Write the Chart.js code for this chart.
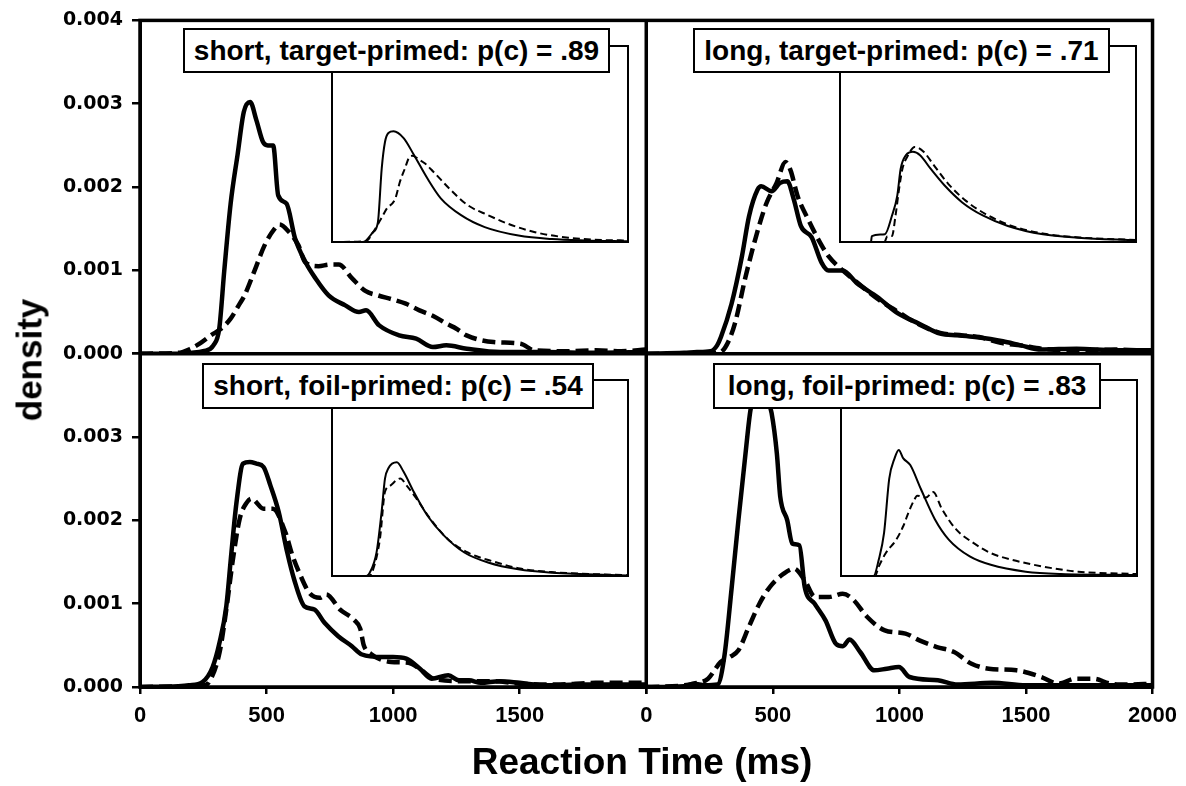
<!DOCTYPE html>
<html><head><meta charset="utf-8">
<script src="https://cdn.jsdelivr.net/npm/chart.js@4.4.1/dist/chart.umd.min.js"></script>
<style>
html,body{margin:0;padding:0;background:#fff;}
#wrap{position:relative;width:1186px;height:786px;overflow:hidden;background:#fff;}
canvas{position:absolute;}
.lbl{position:absolute;box-sizing:border-box;border:2px solid #000;background:#fff;display:flex;align-items:center;justify-content:center;font-family:'Liberation Sans',Arial,sans-serif;font-weight:bold;font-size:28px;color:#000;white-space:nowrap;line-height:1;}
.title{position:absolute;font-family:'Liberation Sans',Arial,sans-serif;font-weight:bold;color:#000;white-space:nowrap;line-height:1;}
</style></head>
<body>
<div id="wrap"><canvas id="main" width="1186" height="786" style="left:0;top:0"></canvas></div>
<script>
// ---------- data (ms, density) ----------
const xTickLabels = ['0','500','1000','1500','2000'];
const yTickLabels = ['0.000','0.001','0.002','0.003','0.004'];
const panelTitles = ['short, target-primed: p(c) = .89','long, target-primed: p(c) = .71','short, foil-primed: p(c) = .54','long, foil-primed: p(c) = .83'];
const xTitle = 'Reaction Time (ms)';
const yTitle = 'density';

// top-left: short, target-primed
const tlSolid = [[0,0],[150,0],[200,0.00001],[250,0.00003],[290,0.0001],[313,0.0003],[333,0.001],[358,0.0018],[386,0.0024],[410,0.0029],[435,0.00302],[460,0.0028],[486,0.00254],[505,0.0025],[526,0.0025],[546,0.0019],[579,0.0018],[612,0.00139],[652,0.00111],[692,0.00091],[745,0.0007],[811,0.00058],[865,0.0005],[893,0.00052],[945,0.00034],[1024,0.00022],[1091,0.00018],[1157,0.00008],[1210,0.0001],[1291,0.00006],[1424,0.00002],[1600,0.00002],[1800,0.00001],[2000,0.00002]];
const tlDashed = [[0,0],[150,0.00001],[200,0.00006],[240,0.00013],[280,0.00022],[320,0.0003],[358,0.00042],[390,0.00058],[413,0.0007],[453,0.001],[492,0.0013],[532,0.0015],[551,0.00155],[586,0.00147],[626,0.0013],[652,0.0011],[705,0.00105],[750,0.00107],[785,0.00107],[839,0.0009],[892,0.00075],[940,0.0007],[998,0.00065],[1050,0.0006],[1104,0.00052],[1160,0.00045],[1211,0.00036],[1250,0.0003],[1290,0.00022],[1397,0.00014],[1504,0.00012],[1557,0.00004],[1690,0.00003],[1800,0.00004],[1900,0.00003],[2000,0.00005]];
// top-right: long, target-primed
const trSolid = [[0,0],[150,0.00001],[200,0.00002],[254,0.00003],[280,0.0001],[295,0.0002],[337,0.0006],[378,0.00117],[406,0.00165],[440,0.00197],[454,0.00201],[495,0.00195],[529,0.00205],[557,0.00207],[583,0.00185],[611,0.00153],[653,0.0014],[693,0.00109],[720,0.001],[776,0.001],[831,0.00085],[913,0.00068],[996,0.00048],[1078,0.00036],[1161,0.00024],[1230,0.00022],[1299,0.0002],[1409,0.00015],[1480,0.0001],[1560,0.00005],[1700,0.00006],[1850,0.00004],[2000,0.00004]];
const trDashed = [[0,0],[200,0],[280,0.00001],[300,0.00003],[325,0.00015],[350,0.00036],[392,0.00092],[433,0.0014],[474,0.0018],[515,0.00205],[550,0.0023],[570,0.0022],[598,0.00189],[640,0.00161],[680,0.00137],[720,0.00117],[776,0.001],[831,0.00086],[913,0.00066],[996,0.0005],[1078,0.00035],[1161,0.00025],[1250,0.00022],[1315,0.0002],[1400,0.00013],[1480,0.0001],[1560,0.00006],[1700,0.00004],[1850,0.00005],[2000,0.00003]];
// bottom-left: short, foil-primed
const blSolid = [[0,0],[150,0.00001],[193,0.00002],[247,0.00006],[287,0.00024],[314,0.00053],[341,0.00097],[361,0.00161],[381,0.00221],[407,0.00268],[434,0.0027],[460,0.00268],[488,0.00264],[515,0.00242],[548,0.0021],[582,0.00161],[609,0.00129],[649,0.00097],[689,0.00093],[729,0.00077],[783,0.00061],[837,0.00049],[877,0.00039],[955,0.00036],[1000,0.00036],[1052,0.00034],[1106,0.00022],[1152,0.0001],[1218,0.00014],[1260,0.00008],[1300,0.00008],[1346,0.00005],[1420,0.00007],[1500,0.00005],[1600,0.00002],[1750,0.00003],[2000,0.00003]];
const blDashed = [[0,0],[200,0.00001],[250,0.00002],[273,0.00006],[314,0.00041],[341,0.00093],[367,0.00153],[394,0.00202],[421,0.00221],[440,0.00226],[488,0.00214],[525,0.00214],[575,0.00185],[602,0.00158],[628,0.00138],[669,0.00113],[710,0.00107],[736,0.00111],[790,0.00093],[844,0.00081],[870,0.0007],[884,0.0005],[911,0.0004],[992,0.0003],[1060,0.00029],[1113,0.0002],[1160,0.0001],[1280,0.00007],[1400,0.00007],[1500,0.00004],[1640,0.00003],[1800,0.00005],[2000,0.00005]];
// bottom-right: long, foil-primed
const brSolid = [[0,0],[150,0.00001],[188,0.00004],[230,0.00002],[282,0.00003],[309,0.00038],[337,0.00118],[364,0.002],[392,0.0028],[412,0.00333],[430,0.0035],[450,0.0036],[475,0.0035],[495,0.00329],[516,0.0028],[529,0.00229],[557,0.002],[577,0.00172],[605,0.0017],[626,0.0012],[665,0.001],[708,0.0008],[749,0.00052],[777,0.00049],[803,0.00057],[845,0.00042],[901,0.0002],[950,0.00022],[998,0.00024],[1040,0.00012],[1152,0.00008],[1230,0.00003],[1366,0.00005],[1500,0.00002],[2000,0.00002]];
const brDashed = [[0,0],[150,0.00002],[188,0.00004],[244,0.0001],[294,0.0003],[330,0.00036],[364,0.00044],[405,0.00072],[447,0.001],[488,0.0012],[543,0.00136],[584,0.00142],[626,0.00128],[667,0.00108],[722,0.00108],[776,0.00112],[817,0.00105],[873,0.00084],[942,0.00068],[1024,0.00064],[1079,0.00056],[1148,0.00048],[1216,0.00042],[1285,0.00028],[1353,0.00022],[1463,0.0002],[1560,0.00012],[1629,0.00004],[1697,0.0001],[1766,0.0001],[1834,0.00004],[1900,0.00003],[2000,0.00004]];

// insets (ms, relative height)
const tlInSolid = [[0,0],[209,0],[277,0.05],[310,0.1],[336,0.376],[358,0.51],[381,0.556],[416,0.565],[484,0.53],[553,0.445],[644,0.325],[735,0.223],[872,0.137],[1032,0.076],[1260,0.033],[1486,0.015],[1710,0.008],[2000,0.004]];
const tlInDashed = [[0,0],[230,0.005],[277,0.05],[310,0.09],[336,0.125],[370,0.17],[427,0.22],[460,0.31],[495,0.38],[518,0.427],[545,0.44],[590,0.42],[629,0.4],[683,0.36],[804,0.264],[917,0.188],[1054,0.137],[1189,0.093],[1372,0.05],[1597,0.022],[1822,0.01],[2000,0.008]];
const trInSolid = [[0,0],[209,0],[215,0.03],[304,0.04],[351,0.134],[387,0.237],[410,0.374],[446,0.443],[493,0.46],[541,0.443],[612,0.374],[707,0.288],[826,0.202],[968,0.134],[1134,0.082],[1371,0.039],[1608,0.022],[2000,0.008]];
const trInDashed = [[0,0],[300,0],[320,0.03],[351,0.03],[375,0.134],[399,0.27],[422,0.374],[458,0.44],[505,0.485],[565,0.46],[636,0.39],[731,0.297],[849,0.211],[990,0.14],[1150,0.085],[1380,0.042],[1620,0.023],[2000,0.01]];
const blInSolid = [[0,0],[233,0],[255,0.017],[301,0.12],[335,0.326],[358,0.497],[381,0.55],[438,0.58],[483,0.533],[552,0.43],[643,0.31],[757,0.206],[894,0.12],[1054,0.069],[1259,0.034],[1487,0.017],[2000,0.003]];
const blInDashed = [[0,0],[250,0],[278,0.034],[324,0.19],[358,0.43],[392,0.46],[438,0.49],[461,0.497],[506,0.46],[575,0.39],[666,0.29],[780,0.19],[917,0.12],[1077,0.077],[1270,0.038],[1500,0.019],[2000,0.004]];
const brInSolid = [[0,0],[220,0],[255,0.083],[291,0.22],[326,0.497],[362,0.6],[390,0.643],[421,0.6],[468,0.566],[539,0.445],[634,0.29],[728,0.186],[870,0.1],[1012,0.057],[1248,0.022],[1485,0.01],[2000,0.005]];
const brInDashed = [[0,0],[230,0],[255,0.048],[303,0.117],[374,0.186],[421,0.255],[456,0.324],[492,0.384],[515,0.41],[574,0.4],[622,0.428],[681,0.343],[775,0.24],[894,0.169],[1012,0.117],[1154,0.083],[1366,0.048],[1603,0.022],[2000,0.01]];

// ---------- layout ----------
const wrap = document.getElementById('wrap');
const BLACK = '#000';
const xFont = {family:'Liberation Sans', size:22, weight:'bold'};
const yFont = {family:'DejaVu Sans', size:19, weight:'bold'};

function xScale(hideLast){
  return {type:'linear', position:'bottom', stack:'h', stackWeight:1, min:0, max:2000,
    ticks:{stepSize:500, color:BLACK, font:xFont, padding:9, maxRotation:0, minRotation:0, autoSkip:false,
      callback:(v,i)=> (hideLast && i===xTickLabels.length-1) ? '' : xTickLabels[i]},
    grid:{drawOnChartArea:false, drawTicks:true, tickLength:7, color:BLACK, lineWidth:2.5},
    border:{display:true, color:BLACK, width:3},
    afterFit:(s)=>{ s.height = 99; }};
}
function yScale(w, hideTop){
  return {type:'linear', position:'left', stack:'v', stackWeight:1, weight:w, min:0, max:0.004,
    ticks:{stepSize:0.001, color:BLACK, font:yFont, padding:9,
      callback:(v,i)=> (hideTop && i===yTickLabels.length-1) ? '' : yTickLabels[i]},
    grid:{drawOnChartArea:false, drawTicks:true, tickLength:8, color:BLACK, lineWidth:2.5},
    border:{display:true, color:BLACK, width:3},
    afterFit:(s)=>{ s.width = 140; }};
}
function line(data, x, y, dashed, w){
  return {data, xAxisID:x, yAxisID:y, borderColor:BLACK, borderWidth:w, pointRadius:0,
    fill:false, cubicInterpolationMode:'monotone',
    borderDash: dashed ? (w>3 ? [13,6] : [7,4]) : [], borderCapStyle:'butt', borderJoinStyle:'round'};
}

const framePlugin = {id:'frame', afterDraw(chart){
  const {ctx, chartArea:a} = chart;
  ctx.save(); ctx.strokeStyle = BLACK; ctx.lineWidth = 3.5;
  ctx.strokeRect(a.left, a.top, a.right-a.left, a.bottom-a.top);
  const yT = chart.scales.yT, xL = chart.scales.xL;
  ctx.beginPath();
  ctx.moveTo(a.left, yT.bottom); ctx.lineTo(a.right, yT.bottom);
  ctx.moveTo(xL.right, a.top); ctx.lineTo(xL.right, a.bottom);
  ctx.stroke(); ctx.restore();
}};

new Chart(document.getElementById('main'), {
  type:'line',
  data:{datasets:[
    line(tlDashed,'xL','yT',true,4.5), line(tlSolid,'xL','yT',false,4.5),
    line(trDashed,'xR','yT',true,4.5), line(trSolid,'xR','yT',false,4.5),
    line(blDashed,'xL','yB',true,4.5), line(blSolid,'xL','yB',false,4.5),
    line(brDashed,'xR','yB',true,4.5), line(brSolid,'xR','yB',false,4.5)
  ]},
  options:{responsive:false, animation:false, devicePixelRatio:1, events:[],
    layout:{padding:{top:18, right:30, left:0, bottom:0}},
    plugins:{legend:{display:false}, tooltip:{enabled:false}, title:{display:false}},
    scales:{ xL:xScale(true), xR:xScale(false), yT:yScale(2,false), yB:yScale(1,true) }},
  plugins:[framePlugin]
});

// insets
const inFrame = {id:'inframe', afterDraw(chart){
  const {ctx, chartArea:a} = chart;
  ctx.save(); ctx.strokeStyle = BLACK; ctx.lineWidth = 2;
  ctx.strokeRect(a.left, a.top, a.right-a.left, a.bottom-a.top); ctx.restore();
}};
const insetBoxes = [
  {x:332, y:46, w:296, h:196, s:tlInSolid, d:tlInDashed},
  {x:840, y:46, w:296, h:196, s:trInSolid, d:trInDashed},
  {x:332, y:380, w:296, h:196, s:blInSolid, d:blInDashed},
  {x:841, y:380, w:296, h:196, s:brInSolid, d:brInDashed}
];
insetBoxes.forEach((b)=>{
  const c = document.createElement('canvas');
  const m = 2;
  c.width = b.w + 2*m; c.height = b.h + 2*m;
  c.style.left = (b.x - m) + 'px'; c.style.top = (b.y - m) + 'px';
  wrap.appendChild(c);
  new Chart(c, {type:'line',
    data:{datasets:[ line(b.d,'x','y',true,2), line(b.s,'x','y',false,2) ]},
    options:{responsive:false, animation:false, devicePixelRatio:1, events:[],
      layout:{padding:m},
      plugins:{legend:{display:false}, tooltip:{enabled:false}},
      scales:{x:{type:'linear', display:false, min:0, max:2000}, y:{type:'linear', display:false, min:0, max:1}}},
    plugins:[inFrame]});
});

// panel labels
const labelBoxes = [
  {x:183, y:28, w:427, h:45},
  {x:693, y:28, w:417, h:45},
  {x:202, y:363, w:392, h:46},
  {x:713, y:363, w:388, h:46}
];
labelBoxes.forEach((b,i)=>{
  const d = document.createElement('div');
  d.className = 'lbl';
  d.style.left = b.x+'px'; d.style.top = b.y+'px'; d.style.width = b.w+'px'; d.style.height = b.h+'px';
  d.textContent = panelTitles[i];
  wrap.appendChild(d);
});

// axis titles
const xt = document.createElement('div');
xt.className = 'title'; xt.textContent = xTitle;
xt.style.fontSize = '37px'; xt.style.left = '642px'; xt.style.top = '761px';
xt.style.transform = 'translate(-50%,-50%)';
wrap.appendChild(xt);
const yt = document.createElement('div');
yt.className = 'title'; yt.textContent = yTitle;
yt.style.fontSize = '35px'; yt.style.left = '29px'; yt.style.top = '360px';
yt.style.transform = 'translate(-50%,-50%) rotate(-90deg)';
wrap.appendChild(yt);
</script>
</body></html>
